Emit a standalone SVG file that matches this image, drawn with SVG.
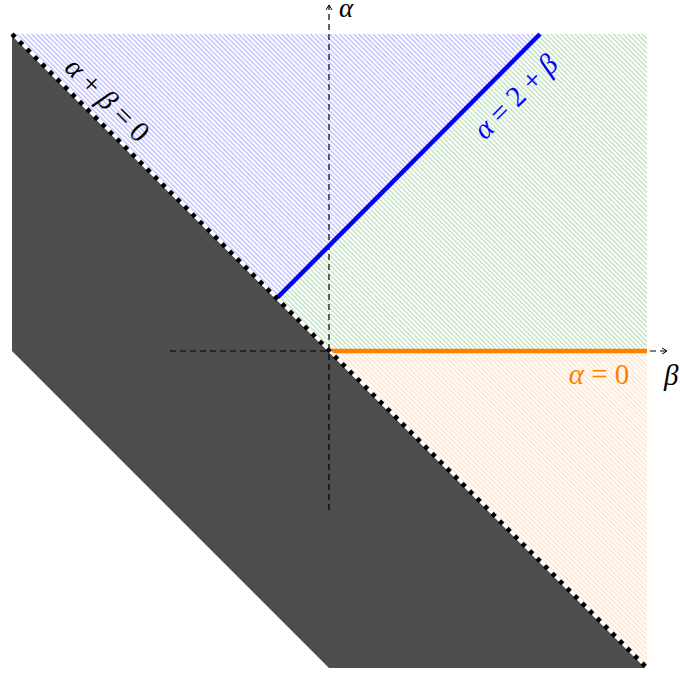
<svg xmlns="http://www.w3.org/2000/svg" width="680" height="677" viewBox="0 0 680 677">
<defs>
<pattern id="hb" width="3.4" height="3.4" patternUnits="userSpaceOnUse" patternTransform="rotate(45)"><line x1="0" y1="1.7" x2="3.4" y2="1.7" stroke="#9a9aff" stroke-width="0.9"/></pattern>
<pattern id="hg" width="3.4" height="3.4" patternUnits="userSpaceOnUse" patternTransform="rotate(45)"><line x1="0" y1="1.7" x2="3.4" y2="1.7" stroke="#9fd09f" stroke-width="0.9"/></pattern>
<pattern id="ho" width="3.4" height="3.4" patternUnits="userSpaceOnUse" patternTransform="rotate(45)"><line x1="0" y1="1.7" x2="3.4" y2="1.7" stroke="#ffd2a8" stroke-width="0.9"/></pattern>
<marker id="arr" markerWidth="8" markerHeight="8" refX="6" refY="4" orient="auto" markerUnits="userSpaceOnUse"><path d="M1,1 L6,4 L1,7" fill="none" stroke="#000" stroke-width="1"/></marker>
</defs>
<style>
.ax{stroke:#000;stroke-width:1.2;stroke-dasharray:6 4;fill:none}
.t{font-size:29px}
.i{font-style:italic}
</style>
<g id="regions">
<polygon points="12,34 277,298 540,34" fill="url(#hb)"/>
<polygon points="277,298 329,351 647,351 647,34 540,34" fill="url(#hg)"/>
<polygon points="329,351 647,351 647,668" fill="url(#ho)"/>
<polygon id="dark" points="12,34 12,351 329,668 647,668" fill="#4d4d4d"/>
</g>
<g id="connectors">
<line class="ax" x1="329" y1="510" x2="329" y2="5" marker-end="url(#arr)"/>
<line class="ax" x1="170" y1="351" x2="667" y2="351" marker-end="url(#arr)"/>
<line x1="277" y1="298" x2="540" y2="34" stroke="#0000ff" stroke-width="4.5"/>
<line x1="329" y1="351" x2="647" y2="351" stroke="#ff8000" stroke-width="4.5"/>
<line x1="12" y1="34" x2="647" y2="668" stroke="#fff" stroke-width="2.5"/>
<line x1="12" y1="34" x2="647" y2="668" stroke="#000" stroke-width="4.5" stroke-dasharray="4.5 6.1"/>
</g>
<g id="labels" font-family="Liberation Serif, serif">
<text class="i" x="339" y="17" font-size="27">α</text>
<text class="t i" x="664" y="385">β</text>
<text class="t" x="599" y="384" fill="#ff8000" text-anchor="middle"><tspan class="i">α</tspan> = 0</text>
<text class="t" transform="translate(107,100) rotate(45)" y="9" text-anchor="middle"><tspan class="i">α</tspan> + <tspan class="i">β</tspan> = 0</text>
<text class="t" fill="#0000ff" transform="translate(516,97) rotate(-45)" y="9" text-anchor="middle"><tspan class="i">α</tspan> = 2 + <tspan class="i">β</tspan></text>
</g>
</svg>
